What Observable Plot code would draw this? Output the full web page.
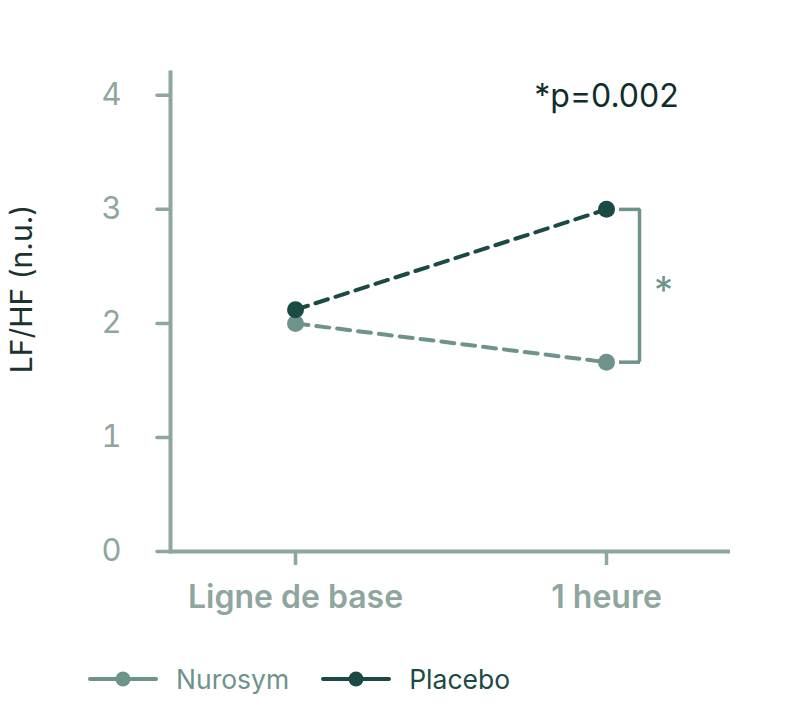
<!DOCTYPE html>
<html>
<head>
<meta charset="utf-8">
<script src="https://cdn.jsdelivr.net/npm/d3@7"></script>
<script src="https://cdn.jsdelivr.net/npm/@observablehq/plot@0.6"></script>
<style>
  body { margin: 0; background: #fff; font-family: Inter, "Noto Sans", sans-serif; }
  #legend { display: flex; align-items: center; height: 98px; padding-left: 88px; font-size: 26.5px; }
  .item { display: flex; align-items: center; margin-right: 32px; }
  .item svg { margin-right: 18px; }
</style>
</head>
<body>
<div id="chart"></div>
<div id="legend"></div>
<script>
const timepoints = ["Ligne de base", "1 heure"];
const nurosym = [2.0, 1.66];
const placebo = [2.12, 3.0];
const yTicks = [0, 1, 2, 3, 4];
const seriesNames = ["Nurosym", "Placebo"];
const seriesColors = ["#6e928c", "#1b4a45"];
const axisColor = "#8fa69e";
const pText = "*p=0.002";
const yLabel = "LF/HF (n.u.)";

const rows = [];
timepoints.forEach((t, i) => {
  rows.push({series: "Nurosym", time: t, value: nurosym[i]});
  rows.push({series: "Placebo", time: t, value: placebo[i]});
});
const colorOf = s => seriesColors[seriesNames.indexOf(s)];
const last = timepoints[timepoints.length - 1];

const chart = Plot.plot({
  width: 800,
  height: 630,
  marginLeft: 170,
  marginRight: 70,
  marginTop: 72,
  marginBottom: 79,
  style: {fontFamily: "Inter, 'Noto Sans', sans-serif", background: "#fff"},
  x: {type: "point", domain: timepoints, padding: 0.4, axis: null},
  y: {domain: [0, 4.2], axis: null},
  marks: [
    Plot.axisY(yTicks, {tickSize: 13, tickPadding: 36, stroke: axisColor, strokeWidth: 3.5, strokeLinecap: "round", fill: axisColor, fontSize: 31, label: null, tickFormat: d => d}),
    Plot.axisX(timepoints, {tickSize: 14, tickPadding: 20, stroke: axisColor, strokeWidth: 3.5, fill: axisColor, fontSize: 32, fontWeight: 600, label: null}),
    Plot.frame({anchor: "left", stroke: axisColor, strokeWidth: 4}),
    Plot.ruleY([0], {stroke: axisColor, strokeWidth: 4}),
    Plot.line(rows, {x: "time", y: "value", z: "series", stroke: d => colorOf(d.series), strokeWidth: 4, strokeDasharray: "13,8"}),
    Plot.dot(rows, {x: "time", y: "value", r: 8.5, fill: d => colorOf(d.series)}),
    Plot.ruleY([placebo[1], nurosym[1]], {x1: () => last, x2: () => last, insetLeft: 13, insetRight: -34, stroke: seriesColors[0], strokeWidth: 3.5}),
    Plot.ruleX([last], {y1: nurosym[1], y2: placebo[1], dx: 33, stroke: seriesColors[0], strokeWidth: 3.5}),
    Plot.text(["*"], {x: () => last, y: (nurosym[1] + placebo[1]) / 2, dx: 57, dy: 6, fill: seriesColors[0], fontSize: 38}),
    Plot.text([pText], {x: () => last, y: 4, dy: 1, fill: "#0f2e2b", fontSize: 32}),
    Plot.text([yLabel], {frameAnchor: "left", textAnchor: "middle", rotate: -90, dx: -148, dy: -23, fill: "#1b3330", fontSize: 30})
  ]
});
document.getElementById("chart").appendChild(chart);

const legend = document.getElementById("legend");
seriesNames.forEach((name, i) => {
  const item = document.createElement("div");
  item.className = "item";
  item.innerHTML = `<svg width="70" height="20"><line x1="2" y1="10" x2="68" y2="10" stroke="${seriesColors[i]}" stroke-width="4" stroke-linecap="round"/><circle cx="35" cy="10" r="7.5" fill="${seriesColors[i]}"/></svg><span style="color:${seriesColors[i]}">${name}</span>`;
  legend.appendChild(item);
});
</script>
</body>
</html>
